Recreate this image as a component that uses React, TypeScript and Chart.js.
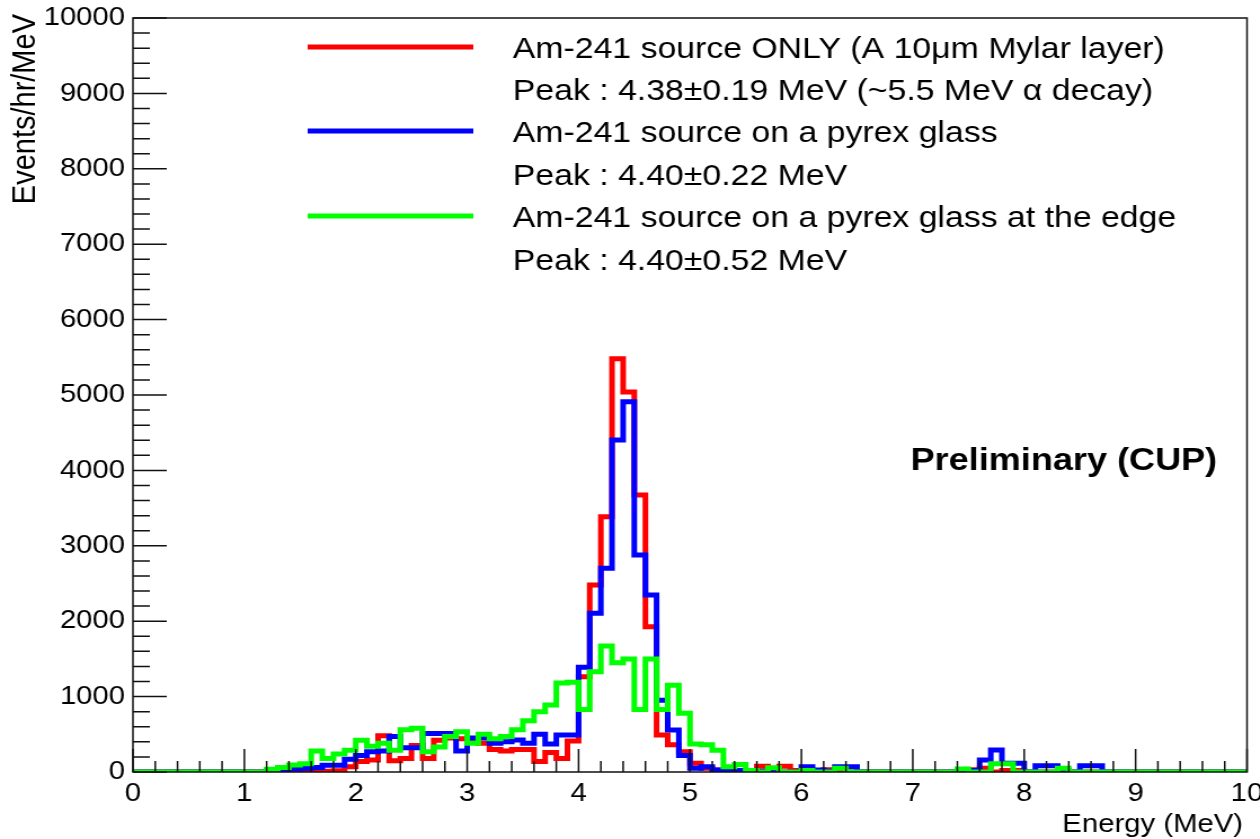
import React, { useEffect, useRef } from 'react';
import { Chart, registerables } from 'chart.js';

Chart.register(...registerables);

// ---- data ----
const BIN_WIDTH = 0.1;
const X_MIN = 0;
const X_MAX = 10;
const Y_MIN = 0;
const Y_MAX = 10000;

const xTickLabels = ['0', '1', '2', '3', '4', '5', '6', '7', '8', '9', '10'];
const yTickLabels = ['0', '1000', '2000', '3000', '4000', '5000', '6000', '7000', '8000', '9000', '10000'];

// Events/hr/MeV per 0.1 MeV bin, bins starting at 0.0, 0.1, ... 9.9 MeV
const mylarOnly = [
  0, 0, 0, 0, 0, 0, 0, 0, 0, 0,
  0, 0, 0, 0, 0, 0, 0, 10, 15, 70,
  140, 160, 480, 150, 180, 350, 180, 420, 450, 440,
  420, 380, 300, 280, 300, 300, 140, 260, 180, 410,
  1264, 2480, 3386, 5480, 5040, 3674, 1927, 490, 360, 270,
  115, 50, 25, 10, 0, 0, 75, 30, 75, 20,
  0, 10, 30, 10, 0, 0, 0, 0, 0, 0,
  0, 0, 0, 0, 0, 30, 50, 0, 20, 20,
  0, 0, 0, 20, 0, 0, 0, 0, 0, 0,
  0, 0, 0, 0, 0, 0, 0, 0, 0, 0,
];

const pyrexGlass = [
  0, 0, 0, 0, 0, 0, 0, 0, 0, 0,
  0, 0, 15, 20, 40, 50, 60, 90, 90, 170,
  220, 270, 280, 470, 320, 320, 510, 510, 510, 280,
  450, 450, 380, 400, 424, 380, 500, 370, 490, 490,
  1390, 2104, 2701, 4403, 4911, 2878, 2347, 950, 557, 220,
  50, 70, 25, 20, 20, 20, 10, 0, 0, 0,
  70, 25, 10, 70, 70, 0, 0, 0, 0, 0,
  0, 0, 0, 0, 0, 20, 160, 292, 115, 115,
  0, 84, 84, 20, 0, 84, 84, 0, 0, 0,
  0, 0, 0, 0, 0, 0, 0, 0, 0, 0,
];

const pyrexEdge = [
  0, 0, 0, 0, 0, 0, 0, 0, 0, 0,
  0, 0, 35, 60, 93, 110, 280, 180, 240, 290,
  420, 340, 380, 290, 560, 580, 270, 330, 470, 535,
  380, 500, 440, 470, 560, 680, 800, 890, 1180, 1190,
  830, 1330, 1670, 1450, 1500, 830, 1500, 830, 1150, 780,
  370, 360, 290, 70, 100, 20, 0, 55, 0, 0,
  20, 0, 0, 50, 0, 0, 0, 0, 0, 0,
  0, 0, 0, 0, 40, 0, 0, 110, 110, 0,
  0, 0, 0, 50, 0, 0, 0, 0, 0, 0,
  0, 0, 0, 0, 0, 0, 0, 0, 0, 0,
];

const seriesNames = [
  'Am-241 source ONLY (A 10μm Mylar layer)',
  'Am-241 source on a pyrex glass',
  'Am-241 source on a pyrex glass at the edge',
];
const seriesPeaks = [
  'Peak : 4.38±0.19 MeV (~5.5 MeV α decay)',
  'Peak : 4.40±0.22 MeV',
  'Peak : 4.40±0.52 MeV',
];
const seriesColors = ['#ff0000', '#0000ff', '#00ff00'];
const seriesValues = [mylarOnly, pyrexGlass, pyrexEdge];

const xAxisTitle = 'Energy (MeV)';
const yAxisTitle = 'Events/hr/MeV';
const annotation = 'Preliminary (CUP)';

// ---- layout (canvas is drawn at 1118 px and displayed at 1260 px wide) ----
const CANVAS_W = 1118;
const CANVAS_H = 839;
const FONT = '"Liberation Sans", Arial, Helvetica, sans-serif';

function toSteps(values: number[]) {
  const pts = values.map((v, i) => ({ x: X_MIN + i * BIN_WIDTH, y: v }));
  pts.push({ x: X_MIN + values.length * BIN_WIDTH, y: values[values.length - 1] });
  return pts;
}

const rootPlugin = {
  id: 'rootStyle',
  afterDraw(chart: any) {
    const { ctx, chartArea: a, scales } = chart;
    const xs = scales.x;
    const ys = scales.y;
    ctx.save();
    ctx.strokeStyle = '#111';
    ctx.lineWidth = 1.5;
    // frame
    ctx.strokeRect(a.left, a.top, a.right - a.left, a.bottom - a.top);
    // y ticks (inside)
    ctx.beginPath();
    for (let k = 0; k <= 50; k++) {
      const v = Y_MIN + (k * (Y_MAX - Y_MIN)) / 50;
      const py = ys.getPixelForValue(v);
      const len = k % 5 === 0 ? 30 : 15;
      ctx.moveTo(a.left, py);
      ctx.lineTo(a.left + len, py);
    }
    // x ticks (inside)
    for (let k = 0; k <= 50; k++) {
      const v = X_MIN + (k * (X_MAX - X_MIN)) / 50;
      const px = xs.getPixelForValue(v);
      const len = k % 5 === 0 ? 23 : 11;
      ctx.moveTo(px, a.bottom);
      ctx.lineTo(px, a.bottom - len);
    }
    ctx.stroke();

    // legend
    const rowCenters = [47, 89, 131, 174, 216, 259];
    ctx.fillStyle = '#000';
    ctx.font = `30px ${FONT}`;
    ctx.textAlign = 'left';
    ctx.textBaseline = 'alphabetic';
    for (let s = 0; s < seriesNames.length; s++) {
      const yc1 = rowCenters[s * 2];
      const yc2 = rowCenters[s * 2 + 1];
      ctx.strokeStyle = seriesColors[s];
      ctx.lineWidth = 5;
      ctx.beginPath();
      ctx.moveTo(273, yc1);
      ctx.lineTo(420, yc1);
      ctx.stroke();
      ctx.fillText(seriesNames[s], 455, yc1 + 10.7);
      ctx.fillText(seriesPeaks[s], 455, yc2 + 10.7);
    }

    // annotation
    ctx.font = `bold 32px ${FONT}`;
    ctx.textAlign = 'right';
    ctx.fillText(annotation, 1080, 458 + 11.5);

    // axis titles
    ctx.font = `26px ${FONT}`;
    ctx.textAlign = 'right';
    ctx.fillText(xAxisTitle, 1103, 823 + 9.3);
    ctx.font = `29px ${FONT}`;
    ctx.translate(21 + 10.4, 14);
    ctx.rotate(-Math.PI / 2);
    ctx.fillText(yAxisTitle, 0, 0);
    ctx.restore();
  },
};

export default function App() {
  const canvasRef = useRef<HTMLCanvasElement | null>(null);

  useEffect(() => {
    const canvas = canvasRef.current;
    if (!canvas) return;
    const orders = [2, 1, 0];
    const chart = new Chart(canvas, {
      type: 'line',
      data: {
        datasets: seriesValues.map((vals, s) => ({
          label: seriesNames[s],
          data: toSteps(vals),
          borderColor: seriesColors[s],
          backgroundColor: seriesColors[s],
          borderWidth: 5,
          stepped: 'before' as const,
          pointRadius: 0,
          fill: false,
          order: orders[s],
        })),
      },
      options: {
        animation: false,
        responsive: false,
        devicePixelRatio: 1,
        events: [],
        layout: { padding: { left: 0, top: 18, right: 11.5, bottom: 0 } },
        plugins: { legend: { display: false }, tooltip: { enabled: false } },
        scales: {
          x: {
            type: 'linear',
            min: X_MIN,
            max: X_MAX,
            grid: { display: false, drawTicks: false },
            border: { display: false },
            ticks: {
              stepSize: 1,
              autoSkip: false,
              maxRotation: 0,
              padding: 6,
              color: '#000',
              font: { family: FONT, size: 26 },
              callback: (_v: any, i: number) => xTickLabels[i],
            },
            afterFit: (s: any) => {
              s.height = CANVAS_H - 772;
              s.paddingLeft = 0;
              s.paddingRight = 0;
            },
          },
          y: {
            type: 'linear',
            min: Y_MIN,
            max: Y_MAX,
            grid: { display: false, drawTicks: false },
            border: { display: false },
            ticks: {
              stepSize: 1000,
              autoSkip: false,
              padding: 7,
              color: '#000',
              font: { family: FONT, size: 26 },
              callback: (_v: any, i: number) => yTickLabels[i],
            },
            afterFit: (s: any) => {
              s.width = 118;
              s.paddingTop = 0;
              s.paddingBottom = 0;
            },
          },
        },
      },
      plugins: [rootPlugin],
    });
    return () => chart.destroy();
  }, []);

  return (
    <canvas
      ref={canvasRef}
      width={CANVAS_W}
      height={CANVAS_H}
      style={{ position: 'fixed', left: 0, top: 0, width: '1260px', height: '839px', background: '#fff' }}
    />
  );
}
